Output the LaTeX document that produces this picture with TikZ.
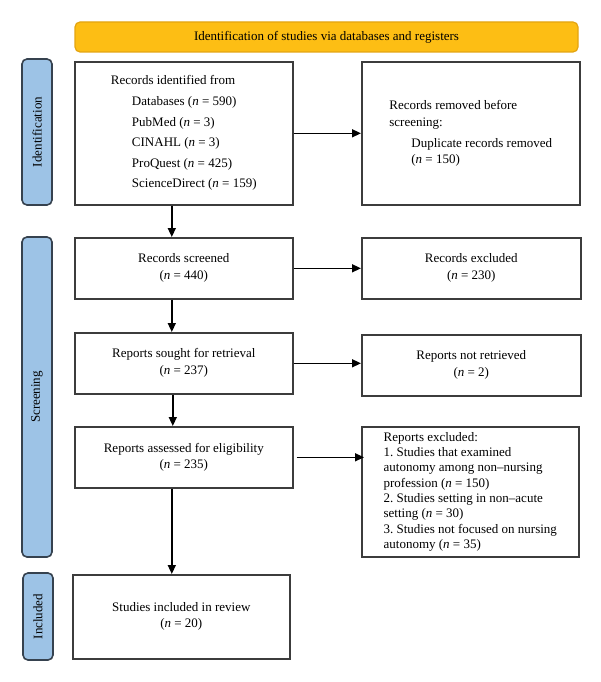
\documentclass[tikz,border=0pt]{standalone}
\usepackage{fontspec}
\setmainfont{Liberation Serif}
\usetikzlibrary{arrows.meta}
\definecolor{ybar}{HTML}{FDBE14}
\definecolor{yborder}{HTML}{E3A411}
\definecolor{bbar}{HTML}{9DC3E6}
\definecolor{bborder}{HTML}{36424F}
\definecolor{boxline}{HTML}{3C3C3C}
\frenchspacing
\begin{document}
\begin{tikzpicture}[x=1pt,y=-1pt,
  txt/.style={font=\fontsize{13}{16}\selectfont},
  box/.style={txt, draw=boxline, line width=1.6pt, fill=white, anchor=north west, inner sep=0pt, align=center},
  lbox/.style={box, align=left},
  side/.style={txt, draw=bborder, line width=1.6pt, fill=bbar, rounded corners=5pt, rotate=90, inner sep=0pt, minimum height=30pt},
  title/.style={txt, draw=yborder, line width=1.2pt, fill=ybar, rounded corners=5pt, inner sep=0pt, minimum width=503pt, minimum height=30pt},
  arr/.style={line width=1.5pt, draw=black, -{Triangle[length=9pt,width=8pt]}}
]
\useasboundingbox (0,0) rectangle (600,682);

\node[title] (head) at (326.5,37) {Identification of studies via databases and registers};

\node[side, minimum width=146pt] (sid) at (37,132) {Identification};
\node[side, minimum width=320pt] (sscr) at (37,397) {Screening};
\node[side, minimum width=87pt] (sinc) at (38,616.5) {Included};

\node[lbox, minimum width=218pt, minimum height=143pt] (b1) at (74,61)
 {Records identified from\\[5pt]
  \hspace*{21pt}Databases (\textit{n} = 590)\\[4.5pt]
  \hspace*{21pt}PubMed (\textit{n} = 3)\\[4.5pt]
  \hspace*{21pt}CINAHL (\textit{n} = 3)\\[4.5pt]
  \hspace*{21pt}ProQuest (\textit{n} = 425)\\[4.5pt]
  \hspace*{21pt}ScienceDirect (\textit{n} = 159)};

\node[lbox, minimum width=218pt, minimum height=143pt] (b2) at (361,61)
 {Records removed before\\[1pt]
  screening:\\[5pt]
  \hspace*{22pt}Duplicate records removed\\
  \hspace*{22pt}(\textit{n} = 150)};

\node[box, minimum width=218pt, minimum height=61pt] (b3) at (74,237)
 {Records screened\\[1pt](\textit{n} = 440)};
\node[box, minimum width=219pt, minimum height=61pt] (b4) at (361,237)
 {Records excluded\\[1pt](\textit{n} = 230)};

\node[box, minimum width=218pt, minimum height=61pt] (b5) at (74,332)
 {Reports sought for retrieval\\[1pt](\textit{n} = 237)};
\node[box, minimum width=219pt, minimum height=61pt] (b6) at (361,334)
 {Reports not retrieved\\[1pt](\textit{n} = 2)};

\node[box, minimum width=218pt, minimum height=61pt] (b7) at (74,426)
 {Reports assessed for eligibility\\(\textit{n} = 235)};
\node[lbox, minimum width=217pt, minimum height=130pt, font=\fontsize{13}{15.3}\selectfont] (b8) at (361,426)
 {Reports excluded:\\
  1. Studies that examined\\
  autonomy among non–nursing\\
  profession (\textit{n} = 150)\\
  2. Studies setting in non–acute\\
  setting (\textit{n} = 30)\\
  3. Studies not focused on nursing\\
  autonomy (\textit{n} = 35)};

\node[box, minimum width=217pt, minimum height=84pt] (b9) at (72,574)
 {Studies included in review\\(\textit{n} = 20)};

\draw[arr] (b1.east) -- (b2.west);
\draw[arr] ([xshift=-12pt]b1.south) -- ([xshift=-12pt]b3.north);
\draw[arr] (b3.east) -- (b3.east -| b4.west);
\draw[arr] ([xshift=-12pt]b3.south) -- ([xshift=-12pt]b5.north);
\draw[arr] (b5.east) -- (b5.east -| b6.west);
\draw[arr] ([xshift=-11pt]b5.south) -- ([xshift=-11pt]b7.north);
\draw[arr] ([xshift=3pt]b7.east) -- ([xshift=3pt]b7.east -| b8.west);
\draw[arr] ([xshift=-12pt]b7.south) -- ([xshift=-12pt]b7.south |- b9.north);
\end{tikzpicture}
\end{document}
